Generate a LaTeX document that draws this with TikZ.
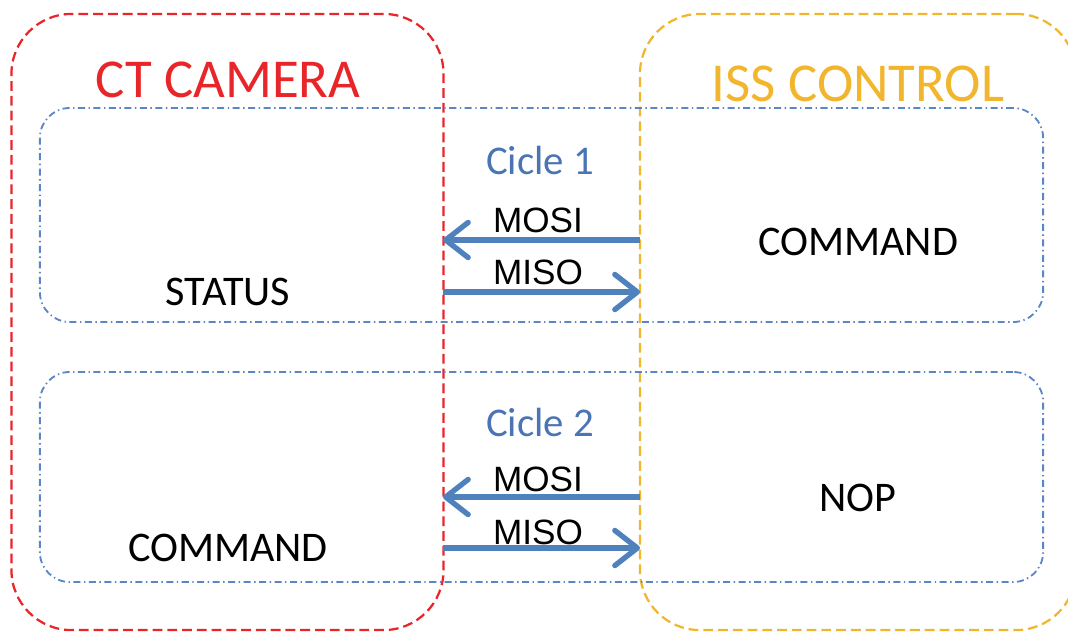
\documentclass[tikz,border=0pt]{standalone}
\usepackage{fontspec}
\setmainfont{Carlito}
\newfontfamily\arialfont{Liberation Sans}
\usetikzlibrary{arrows.meta,positioning}
\definecolor{camred}{HTML}{E8262A}
\definecolor{issyellow}{HTML}{F2B62E}
\definecolor{cycblue}{HTML}{5B86C5}
\definecolor{cictext}{HTML}{4A74B4}
\definecolor{sigblue}{HTML}{4F81BD}

\begin{document}
\begin{tikzpicture}[x=0.025cm,y=-0.025cm,
    side/.style={draw,rounded corners=1.5cm,dash pattern=on 7pt off 3.5pt,
      line width=1.6pt,minimum width=10.8cm,minimum height=15.4cm},
    cyc/.style={draw=cycblue,rounded corners=0.75cm,line width=1.3pt,
      dash pattern=on 5pt off 2.5pt on 1pt off 2.5pt,minimum width=25.075cm},
    title/.style={font=\fontsize{39}{41}\selectfont},
    cic/.style={text=cictext,font=\fontsize{29}{31}\selectfont},
    word/.style={font=\fontsize{30}{32}\selectfont},
    spi/.style={font=\arialfont\fontsize{25}{27}\selectfont},
    sig/.style={draw=sigblue,line width=3.8pt,
      -{Straight Barb[length=16pt,width=25pt,round]}}]
  \useasboundingbox (0,0) rectangle (1068,634);
  % the two sides
  \node[side,draw=camred] (cam) at (227.5,322) {};
  \node[side,draw=issyellow,minimum width=10.9cm] (iss) at (858,322) {};
  \node[title,text=camred] (camname) at (228,80) {CT CAMERA};
  \node[title,text=issyellow] (issname) at (858,84) {ISS CONTROL};
  % the two cycles
  \node[cyc,minimum height=5.35cm] (cyc1) at (541.5,215) {};
  \node[cyc,minimum height=5.25cm] (cyc2) at (541.5,477) {};
  \node[cic] (cic1) at (540,160) {Cicle 1};
  \node[cic] (cic2) at (540,422) {Cicle 2};
  \node[word] (status) at (228,292) {STATUS};
  \node[word] (cmd1) at (858,242) {COMMAND};
  \node[word] (cmd2) at (228,548) {COMMAND};
  \node[word] (nop) at (858,498) {NOP};
  % signals
  \coordinate (mosi1a) at (640,240); \coordinate (mosi1b) at (443,240);
  \coordinate (miso1a) at (443,292); \coordinate (miso1b) at (640,292);
  \coordinate (mosi2a) at (640,497); \coordinate (mosi2b) at (443,497);
  \coordinate (miso2a) at (443,548); \coordinate (miso2b) at (640,548);
  \draw[sig] (mosi1a) -- (mosi1b);
  \draw[sig] (miso1a) -- (miso1b);
  \draw[sig] (mosi2a) -- (mosi2b);
  \draw[sig] (miso2a) -- (miso2b);
  \node[spi] (mosi1) at (538,220) {MOSI};
  \node[spi] (miso1) at (538,272) {MISO};
  \node[spi] (mosi2) at (538,479) {MOSI};
  \node[spi] (miso2) at (538,532) {MISO};
\end{tikzpicture}
\end{document}
